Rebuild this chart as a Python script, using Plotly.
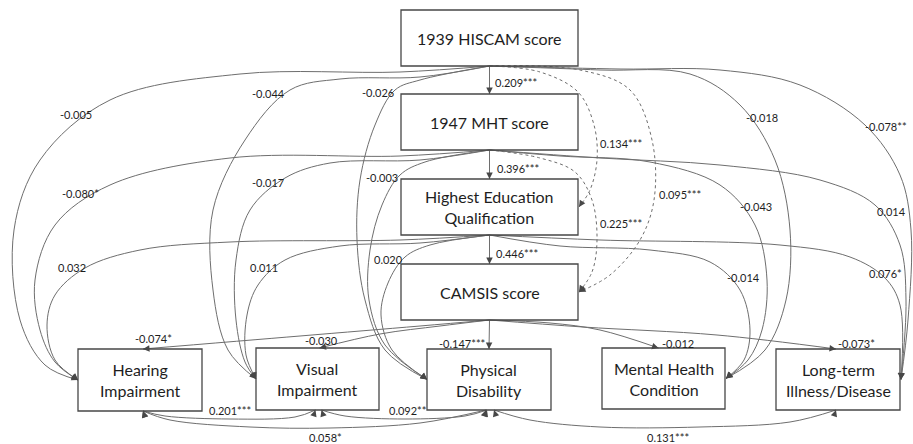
import math
import plotly.graph_objects as go

# ---------------- data ----------------
node_names = [
    "1939 HISCAM score", "1947 MHT score", "Highest Education<br>Qualification",
    "CAMSIS score", "Hearing<br>Impairment", "Visual<br>Impairment",
    "Physical<br>Disability", "Mental Health<br>Condition", "Long-term<br>Illness/Disease",
]
path_from = [0, 0, 0, 0, 0, 0, 0, 0,
             1, 1, 1, 1, 1, 1, 1,
             2, 2, 2, 2, 2, 2,
             3, 3, 3, 3, 3]
path_to = [1, 4, 5, 6, 7, 8, 2, 3,
           2, 4, 5, 6, 7, 8, 3,
           3, 4, 5, 6, 7, 8,
           6, 4, 5, 7, 8]
path_coef = ["0.209***", "-0.005", "-0.044", "-0.026", "-0.018", "-0.078**", "0.134***", "0.095***",
             "0.396***", "-0.080*", "-0.017", "-0.003", "-0.043", "0.014", "0.225***",
             "0.446***", "0.032", "0.011", "0.020", "-0.014", "0.076*",
             "-0.147***", "-0.074*", "-0.030", "-0.012", "-0.073*"]
path_indirect = [False, False, False, False, False, False, True, True,
                 False, False, False, False, False, False, True,
                 False, False, False, False, False, False,
                 False, False, False, False, False]
cov_a = [4, 4, 5, 6]
cov_b = [5, 6, 6, 8]
cov_coef = ["0.201***", "0.058*", "0.092**", "0.131***"]

# ---------------- layout (positions only) ----------------
W, H = 913, 444
boxes = [  # x0, x1, y0, y1 in pixel-like axis units (y downward)
    (401, 578, 10, 66), (401, 578, 94, 150), (401, 578, 179, 235), (401, 578, 264, 320),
    (78, 202, 349, 411), (256, 379, 348, 410), (427, 551, 349, 410),
    (602, 725, 348, 409), (776, 900, 349, 410),
]
# entry side on target box and interior waypoints of each route
routes = [
    ("top", 0, []),
    ("left", 0, [(400, 72), (240, 74), (110, 100), (40, 160), (14, 230), (20, 320), (45, 365)]),
    ("left", 0, [(420, 77), (340, 79), (290, 90), (245, 140), (213, 210), (213, 290), (228, 350)]),
    ("left", 0, [(420, 80), (395, 90), (375, 125), (360, 180), (357, 240), (365, 300), (385, 350)]),
    ("right", 0, [(600, 70), (690, 74), (740, 105), (775, 160), (790, 230), (786, 300), (765, 350)]),
    ("right", 0, [(620, 69), (720, 70), (800, 85), (865, 125), (900, 175), (911, 230), (908, 320)]),
    ("right", 0, [(540, 72), (578, 92), (594, 125), (597, 160), (590, 190)]),
    ("right", 0, [(580, 70), (630, 90), (652, 140), (654, 200), (640, 240), (610, 275)]),
    ("top", 0, []),
    ("left", 0, [(400, 156), (230, 158), (110, 185), (55, 225), (35, 280), (40, 330), (55, 362)]),
    ("left", 0, [(420, 160), (330, 163), (285, 178), (250, 210), (236, 260), (236, 320), (245, 362)]),
    ("left", 0, [(425, 162), (400, 175), (382, 205), (370, 250), (369, 300), (385, 345)]),
    ("right", 0, [(560, 156), (650, 162), (720, 185), (755, 225), (767, 280), (762, 330), (748, 360)]),
    ("right", 0, [(600, 158), (720, 165), (820, 180), (875, 205), (900, 245), (906, 300)]),
    ("right", 0, [(540, 158), (575, 172), (592, 200), (597, 240), (592, 272)]),
    ("top", 0, []),
    ("left", 0, [(400, 240), (230, 242), (140, 250), (85, 268), (55, 295), (47, 325), (55, 360)]),
    ("left", 0, [(420, 243), (340, 246), (285, 260), (258, 285), (247, 315), (246, 355)]),
    ("left", 0, [(430, 245), (405, 257), (388, 283), (381, 315), (392, 350)]),
    ("right", 0, [(560, 246), (650, 250), (710, 262), (740, 290), (750, 330), (744, 360)]),
    ("right", 0, [(600, 240), (780, 245), (850, 257), (885, 278), (900, 305)]),
    ("top", 0, []),
    ("top", 3, [(420, 326), (300, 336)]),
    ("top", 2, [(440, 326), (380, 334)]),
    ("top", -5, [(550, 323), (600, 330)]),
    ("top", -2, [(583, 327), (717, 335)]),
]
path_label_pos = [
    (493, 82, "left"), (76, 114, "center"), (268, 93, "center"), (378, 92, "center"),
    (762, 117, "center"), (886, 126, "center"), (598, 143, "left"), (657, 194, "left"),
    (495, 168, "left"), (80, 193, "center"), (268, 182, "center"), (382, 177, "center"),
    (756, 206, "center"), (891, 211, "center"), (598, 223, "left"),
    (494, 253, "left"), (72, 267, "center"), (264, 267, "center"), (388, 259, "center"),
    (743, 277, "center"), (885, 273, "center"),
    (487, 343, "right"), (153, 338, "center"), (321, 340, "center"), (660, 343, "left"),
    (836, 343, "left"),
]
cov_routes = [
    (3, -2, [(165, 416), (230, 419), (295, 417)]),
    (3, -3, [(170, 420), (250, 427), (330, 428), (420, 423)]),
    (4, -2, [(345, 416), (405, 419), (465, 416)]),
    (5, -2, [(530, 420), (600, 427), (700, 427), (790, 422)]),
]
cov_label_pos = [(230, 410), (325, 437), (407, 410), (668, 437)]

LINE = "#6e6e6e"
BOX = "#474747"
TXT = "#1e1e1e"
FONT = "Lato, 'Open Sans', sans-serif"

fig = go.Figure()
annotations = []
shapes = []


def center(i):
    x0, x1, y0, y1 = boxes[i]
    return ((x0 + x1) / 2, (y0 + y1) / 2)


def arrow(tip, prev, color=BOX):
    dx, dy = tip[0] - prev[0], tip[1] - prev[1]
    n = math.hypot(dx, dy) or 1
    tail = (tip[0] - 6 * dx / n, tip[1] - 6 * dy / n)
    annotations.append(dict(x=tip[0], y=tip[1], ax=tail[0], ay=tail[1], xref="x", yref="y",
                            axref="x", ayref="y", text="", showarrow=True, arrowhead=2,
                            arrowsize=1.3, arrowwidth=1, arrowcolor=color, standoff=0))


# boxes
for i, name in enumerate(node_names):
    x0, x1, y0, y1 = boxes[i]
    shapes.append(dict(type="rect", xref="x", yref="y", x0=x0, x1=x1, y0=y0, y1=y1,
                       line=dict(color=BOX, width=1.3), fillcolor="rgba(0,0,0,0)", layer="above"))
    cx, cy = center(i)
    annotations.append(dict(x=cx, y=cy, xref="x", yref="y", text=name, showarrow=False,
                            font=dict(family=FONT, size=16, color=TXT), align="center"))

# directed paths
for k in range(len(path_from)):
    s, t = path_from[k], path_to[k]
    sx0, sx1, sy0, sy1 = boxes[s]
    start = ((sx0 + sx1) / 2, sy1)
    side, off, mids = routes[k]
    tx0, tx1, ty0, ty1 = boxes[t]
    if side == "top":
        end = ((tx0 + tx1) / 2 + off, ty0)
    elif side == "left":
        end = (tx0, (ty0 + ty1) / 2 + off)
    else:
        end = (tx1 + 1, (ty0 + ty1) / 2 + off)
    pts = [start] + mids + [end]
    fig.add_trace(go.Scatter(
        x=[p[0] for p in pts], y=[p[1] for p in pts], mode="lines",
        line=dict(color=LINE, width=1, shape="spline", smoothing=1.0,
                  dash="dot" if path_indirect[k] else "solid"),
        hoverinfo="skip", showlegend=False))
    arrow(end, pts[-2])
    lx, ly, anc = path_label_pos[k]
    annotations.append(dict(x=lx, y=ly, xref="x", yref="y", text=path_coef[k], showarrow=False,
                            xanchor=anc, font=dict(family=FONT, size=11, color=TXT)))

# covariances (double-headed)
for k in range(len(cov_a)):
    a, b = cov_a[k], cov_b[k]
    ax0, ax1, ay0, ay1 = boxes[a]
    bx0, bx1, by0, by1 = boxes[b]
    oa, ob, mids = cov_routes[k]
    pa = ((ax0 + ax1) / 2 + oa, ay1)
    pb = ((bx0 + bx1) / 2 + ob, by1)
    pts = [pa] + mids + [pb]
    fig.add_trace(go.Scatter(
        x=[p[0] for p in pts], y=[p[1] for p in pts], mode="lines",
        line=dict(color=LINE, width=1, shape="spline", smoothing=1.0),
        hoverinfo="skip", showlegend=False))
    arrow(pa, (pa[0] + 2, pa[1] + 6))
    arrow(pb, (pb[0] - 2, pb[1] + 6))
    lx, ly = cov_label_pos[k]
    annotations.append(dict(x=lx, y=ly, xref="x", yref="y", text=cov_coef[k], showarrow=False,
                            font=dict(family=FONT, size=11, color=TXT)))

fig.update_layout(
    width=W, height=H, margin=dict(l=0, r=0, t=0, b=0),
    paper_bgcolor="white", plot_bgcolor="white",
    xaxis=dict(range=[0, W], visible=False, fixedrange=True),
    yaxis=dict(range=[H, 0], visible=False, fixedrange=True),
    shapes=shapes, annotations=annotations,
)
fig.write_html("out.html", config={"displayModeBar": False},
               post_script="document.body.style.margin='0';document.body.style.overflow='hidden';")
